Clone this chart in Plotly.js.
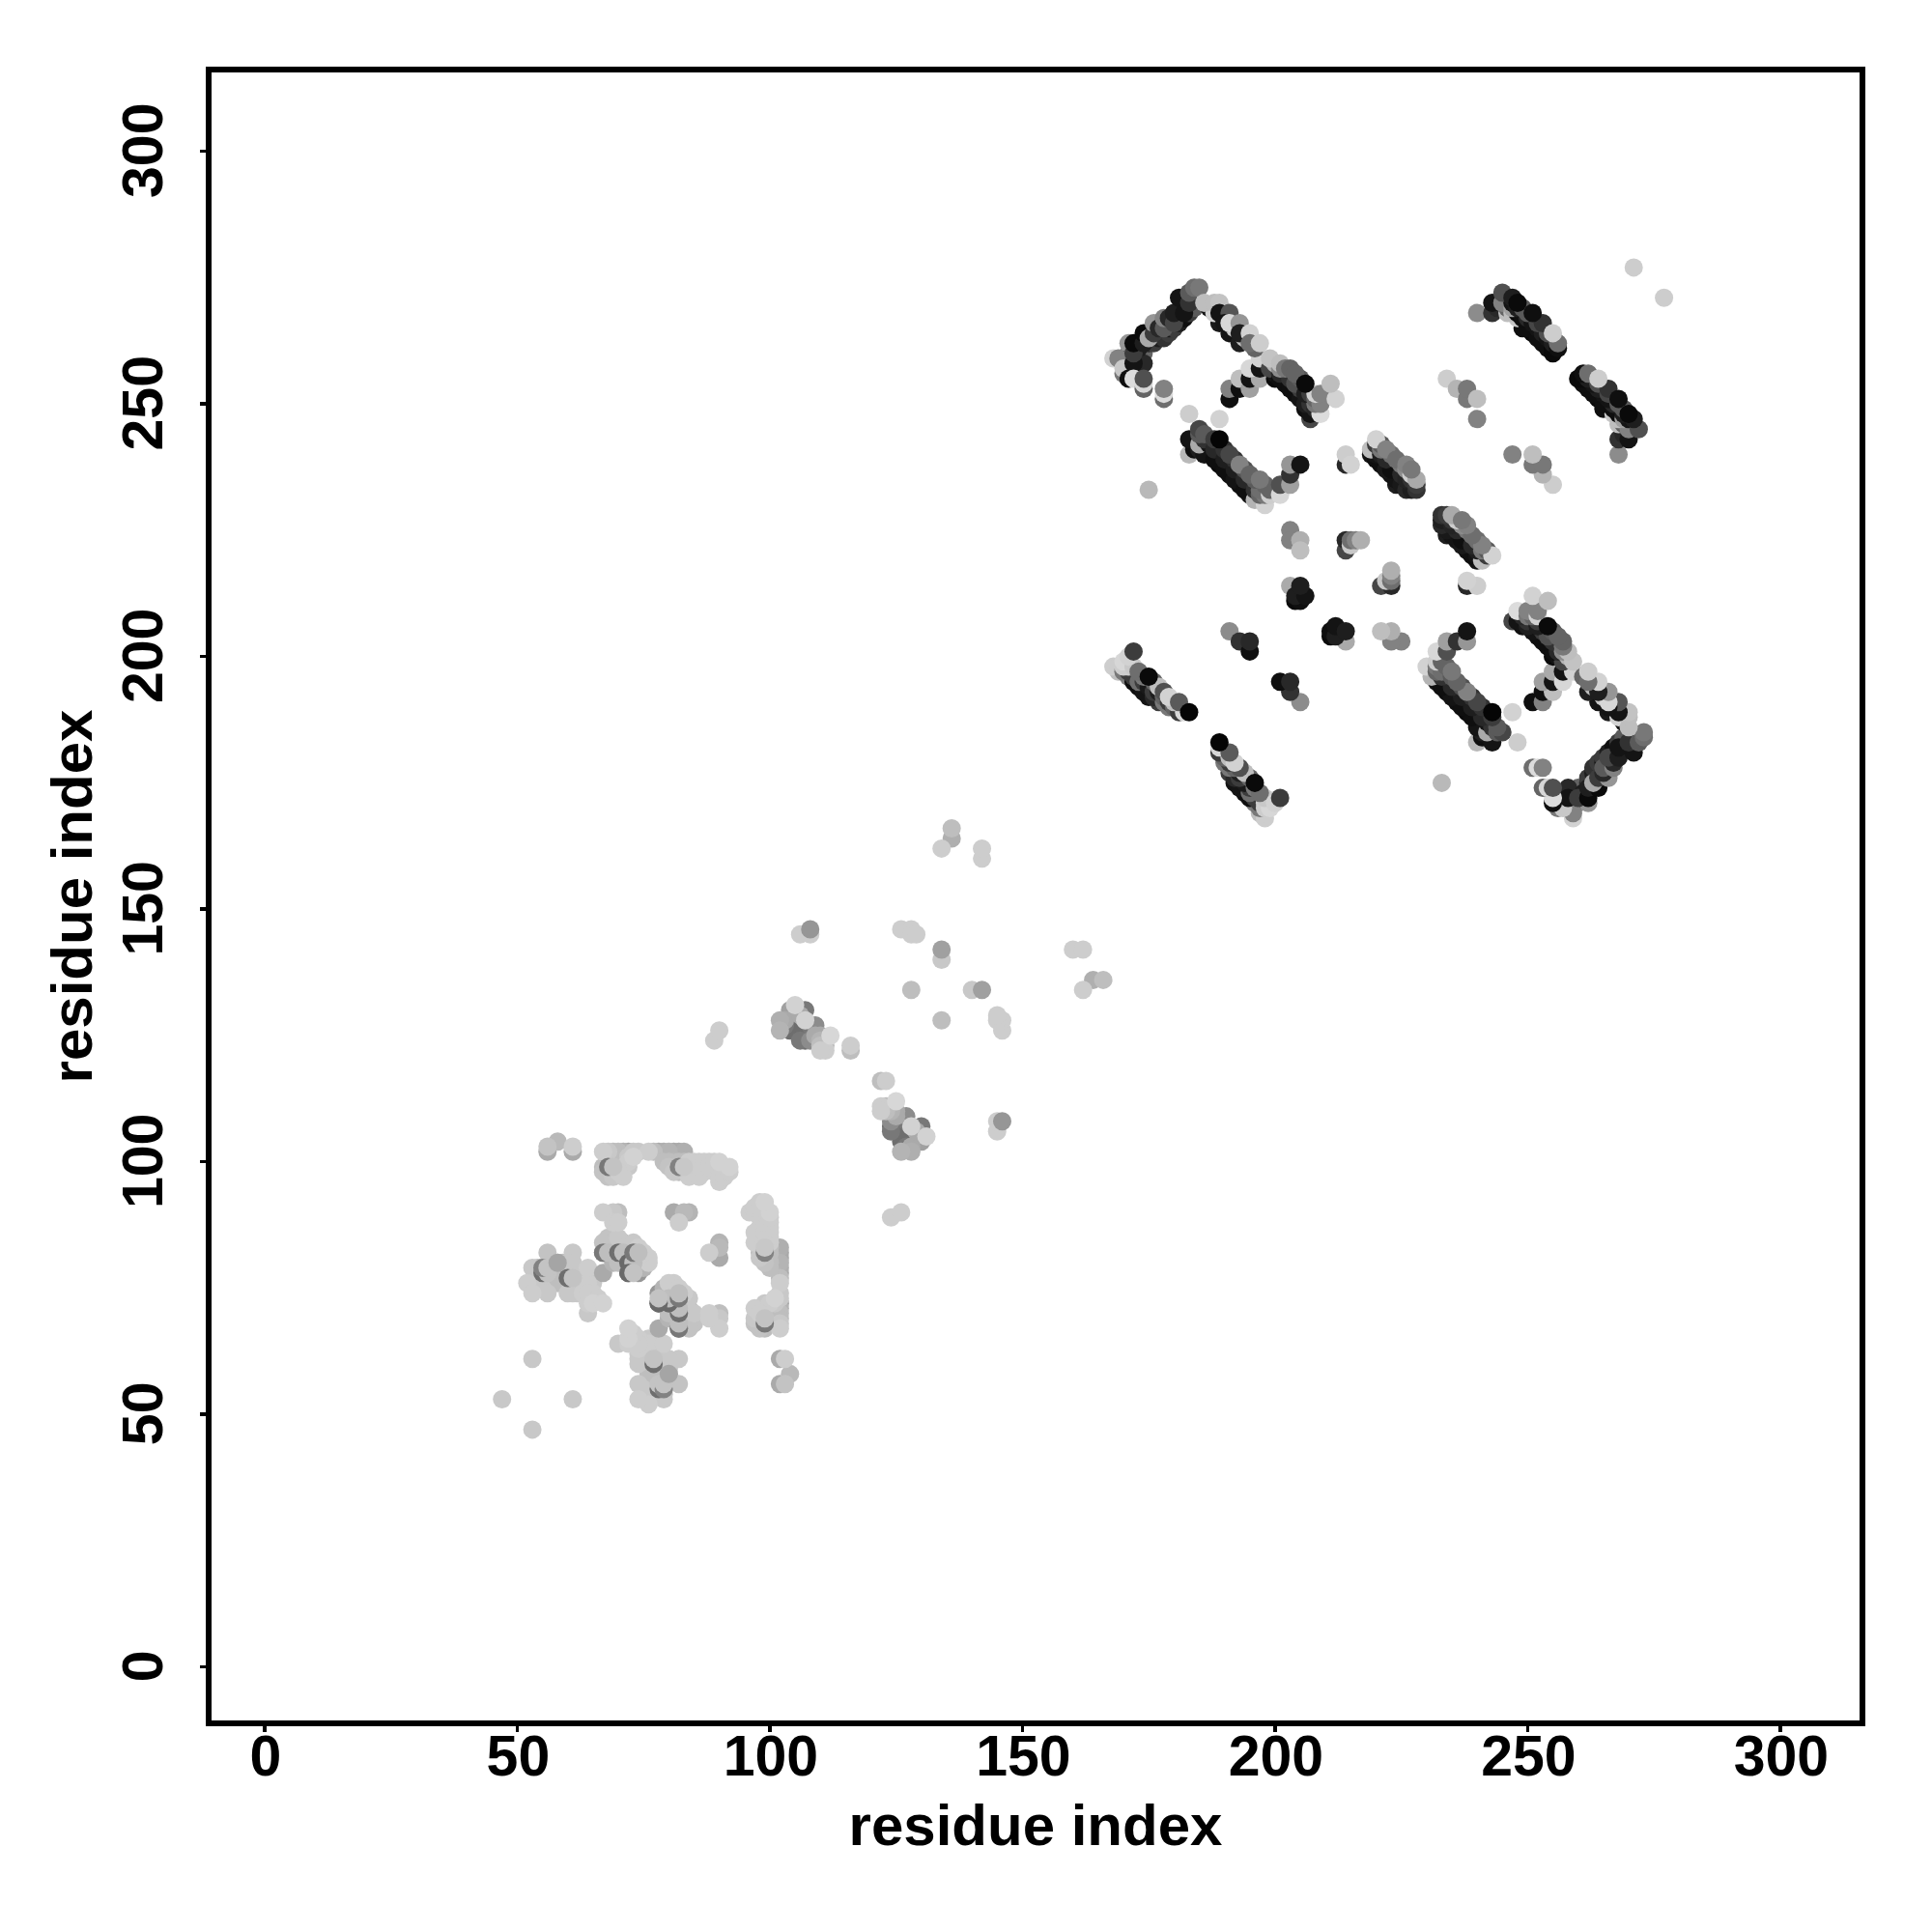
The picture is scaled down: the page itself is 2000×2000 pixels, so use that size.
<!DOCTYPE html>
<html><head><meta charset="utf-8">
<script src="https://cdn.plot.ly/plotly-3.0.1.min.js"></script>
<style>html,body{margin:0;padding:0;background:#fff}</style></head>
<body><div id="chart" style="width:2000px;height:2000px"></div>
<script>
// Contact map, symmetric: each row is [lower residue, higher residue, grey shade 0-255]
const tickValues = [0, 50, 100, 150, 200, 250, 300];
const axisLabel = "residue index";

const strandCorner = [
[170,258,150],[170,256,120],[171,258,80],[172,257,15],[173,258,60],[173,260,50],[171,260,140],[171,259,30],[174,260,100],[174,258,40],
[173,261,30],[175,262,40],[176,262,60],[177,263,30],[178,263,50],[179,264,60],[179,265,25],[180,265,60],[181,266,30],[181,268,30],[182,267,15],[182,269,30],[183,268,60],[184,269,90],
[187,269,20],[189,266,25],[191,264,20],[193,262,30],[192,265,200],[194,263,190],[196,261,100],[188,268,210],
[168,259,210],[169,259,130],[171,262,150],[170,257,200],[171,255,15],[172,258,20],[172,260,60],[172,262,10],[174,262,30],[174,264,10],
[172,255,220],[174,253,100],[174,254,215],[174,255,80],[178,251,110],[178,252,220],[178,253,130],
[175,263,170],[176,264,60],[176,266,150],[177,265,40],[178,265,90],[178,267,130],[179,267,40],[180,266,70],[180,268,30],[181,271,20],[182,268,20],[183,270,50],[183,272,90],[184,273,110],[185,273,120],
[183,248,205],[189,247,210],
[186,270,190],[188,270,190],[189,270,195],[189,268,20],[191,268,85],[190,266,20],[191,266,215],[193,266,150],[193,264,30],[195,264,210],[195,262,110],[197,262,205]
];
const strandUpper = [
[200,255,10],[200,256,20],[202,254,15],[204,252,15],[206,249,15],[201,256,40],[203,255,50],[205,253,60],[205,255,90],[207,252,60],[207,250,50],[208,250,120],[203,257,100],[204,254,80],[206,252,30],[208,249,40],[208,251,100],[200,258,180],[201,257,140],
[191,251,15],[191,253,130],[193,253,15],[193,255,190],[195,253,160],[195,255,20],[197,255,170],[195,257,215],[197,257,20],[197,259,210],[199,257,70],[199,259,195],[201,258,190],
[201,255,15],[203,253,15],[205,251,20],[202,257,120],[204,256,100],[206,250,30],[207,247,70],[207,248,20],[209,248,220],[208,252,210],[209,250,130],[209,252,130],[211,254,190],[212,251,210]
];
const strandMiddle = [
[184,241,15],[185,241,30],[186,240,20],[187,242,20],[189,238,10],[191,236,15],[193,234,15],[195,232,20],[186,243,50],[188,243,60],[188,241,40],[190,239,30],[190,241,50],[192,239,50],[192,237,30],[194,237,80],[194,235,40],[196,235,90],[196,233,50],[197,232,100],[198,234,100],[198,232,120],[199,233,100],[197,235,120],[185,244,90],
[183,243,20],[183,240,185],[185,242,170],[185,245,70],[186,244,90],[188,239,15],[190,237,15],[192,235,20],[194,233,15],[191,240,70],[193,238,130],[195,236,100],[197,233,110],[196,231,180],[198,230,210],[199,232,205],[201,232,215],[201,234,80],[203,234,160],[203,236,50],[203,238,150],[205,238,20],[175,233,185]
];
const helixBand = [
[219,240,20],[220,239,15],[221,238,15],[221,240,30],[222,239,40],[223,237,15],[223,236,20],[224,235,20],[225,234,25],[225,236,40],[226,235,35],[227,233,30],[227,235,50],[228,234,60],[220,242,60],[221,241,120],[221,242,90],[223,240,110],[225,238,120],[226,238,130],[227,237,120],
[220,240,20],[222,237,25],[224,234,30],[226,233,40],[228,233,50],[219,241,190],[220,243,210],[222,241,130],[224,239,110],[226,237,140],[227,236,205],[228,235,170]
];
const helixSpots = [
[214,238,40],[214,240,205],[215,238,210],
[203,225,130],[203,223,130],[205,223,175],[205,221,190],
[214,221,70],[214,223,40],[215,222,200],[215,223,110],[216,223,130],[217,223,175],
[203,214,170],[204,211,10],[205,211,15],[204,212,30],[206,212,20],[205,214,30],
[191,205,140],[193,203,50],[195,201,15],[195,203,40]
];
const strandLowerLeft = [
[169,197,190],[171,196,130],[171,197,60],[173,194,15],[172,196,60],[174,195,60],[175,194,25],[175,192,20],[176,193,60],[176,195,100],[177,193,30],[177,191,60],[178,192,100],[179,190,120],[179,191,60],[180,190,100],[180,191,190],[173,195,110],[174,196,120],[169,198,205],[170,198,205],[171,198,205],[172,198,200],
[168,198,205],[170,199,215],[171,200,210],[170,197,120],[172,195,15],[174,193,20],[176,192,40],[173,197,110],[177,194,190],[178,193,80],[178,191,120],[179,192,210],[181,191,90],[181,189,60],[182,189,215]
];
const strandFar = [
[244,269,40],[246,269,100],[247,270,20],[248,268,10],[249,267,15],[249,265,15],[251,264,10],[253,262,15],[250,267,40],[250,268,90],[251,266,20],[252,265,20],[253,264,30],[253,266,50],[254,264,80],[254,263,20],[255,262,30],[256,261,15],[255,261,10],[248,269,30],[247,271,30],[246,268,190],[247,269,160],[248,267,200],
[240,268,140],[243,268,50],[243,270,20],[245,270,130],[245,272,80],[247,268,190],[250,265,15],[252,263,15],[254,261,15],[255,260,10],[249,269,90],[252,266,70],[255,264,205],[256,262,110]
];
const strandFarSpots = [
[271,277,205],
[234,255,205],[236,253,180],[238,251,120],[238,253,120],[240,251,190],[240,247,130]
];
const loopsLower = [
[103,128,170],[103,127,120],[104,127,100],[104,126,110],[106,128,100],[106,124,120],[107,126,100],[108,127,120],[108,125,110],[108,124,140],[110,125,170],[110,124,180],[110,123,190],[111,122,205],[106,129,170],
[136,164,175],[136,166,190],[134,162,205],[142,160,205],[142,162,205],
[106,145,205],[108,145,205],[126,146,205],[128,146,205],[128,145,205],[129,145,205],
[134,140,200],[128,134,190],[89,124,205],[90,126,205],
[102,126,180],[102,128,175],[104,130,160],[105,126,110],[105,128,100],[107,124,110],[107,130,120],[106,126,100],[105,131,210],[109,125,170],[109,127,140],[107,128,210],[110,122,205],[111,123,190],[112,125,215],[116,122,190],[116,123,205]
];
const sheetTop = [
[68,99,170],[68,102,200],[69,98,130],[69,100,165],[70,99,160],[70,101,190],[70,102,190],[71,100,190],[71,97,205],[69,97,200],[72,99,200],[72,100,205],[72,101,200],[77,102,190],[80,102,180],[80,100,190],[80,99,195],[82,100,190],[82,98,190],[83,98,195],[83,100,190],[85,98,205],[85,99,205],[86,100,205],[87,98,205],[87,99,205],[88,100,205],[89,98,205],[89,99,205],[91,99,205],[90,100,210],
[56,102,170],[61,102,170],[56,103,195],[58,104,185],[61,103,205],
[68,98,120],[68,100,130],[70,100,160],[67,99,190],[67,98,195],[68,97,195],[69,99,200],[70,98,205],[71,99,195],[67,102,205],[69,102,190],[71,102,180],[72,102,165],[73,102,200],[73,101,210],[74,102,200],
[76,102,205],[78,102,170],[79,102,175],[82,102,170],[79,100,190],[81,102,170],[81,100,185],[81,98,200],[82,99,140],[83,102,175],[84,97,205],[83,99,200],[84,99,200],[84,100,205],[85,100,205],[86,97,205],[86,99,205],[87,100,205],[88,99,205],[89,100,205],[90,96,205],[90,98,205],[90,97,205],[90,99,200],[91,97,205],[91,98,205],[92,98,205],[92,99,210]
];
const sheetMiddle = [
[68,82,130],[68,83,170],[69,84,190],[69,81,160],[70,83,150],[71,82,110],[71,84,190],[72,81,100],[72,83,170],[73,81,130],[73,82,140],[73,80,110],[74,82,180],[75,81,190],[70,81,170],[68,85,195],[70,85,200],[72,79,130],[74,78,150],[75,79,180],[76,81,205],[76,80,205],
[67,90,205],[69,90,200],[70,90,190],[69,88,205],[70,88,205],
[81,90,170],[83,90,185],[84,90,180],[82,88,205],
[67,78,170],[72,78,130],[73,79,130],[74,79,140],[74,80,130],[72,80,100],[71,81,120],[72,82,120],[70,82,120],[69,83,130],[67,82,130],[69,80,180],[70,80,190],[75,80,180],[74,81,170],
[67,84,195],[68,84,190],[70,84,190],[71,83,200],[73,84,200],[74,83,205],[75,82,205]
];
const sheetLeft = [
[54,78,190],[54,76,190],[55,76,190],[55,75,200],[54,79,190],[57,78,190],[57,80,190],[58,78,170],[58,76,190],[59,80,190],[59,78,180],[60,80,200],[60,74,200],[61,78,195],[61,76,180],[62,78,200],[62,76,195],[62,74,200],[63,74,205],[64,76,205],[65,74,205],[65,76,200],[63,78,200],[64,72,205],[55,79,150],
[47,53,200],[53,61,200],
[52,76,205],[53,79,200],[53,76,195],[53,74,205],[55,78,110],[56,76,130],[56,74,200],[56,82,195],[58,80,165],[60,78,120],[60,76,90],[61,82,200],[61,80,200],[61,74,200],[63,76,200],[64,79,205],[64,74,205],[64,70,200],[65,72,210],[67,72,210],[66,73,205]
];
// Darker contacts that stay visible as slivers beside a lighter neighbour
const sheetSlivers = [
[55,78,110],[56,78,195],[55,79,130],[56,79,195],[60,77,110],[61,77,195],
[67,82,120],[68,82,190],[70,82,110],[71,82,190],[72,80,105],[73,80,190],[73,82,120],[74,82,190],[72,78,105],[73,78,195],
[68,99,120],[69,99,195],[82,99,130],[83,99,200]
];
// Contacts that sit on top of their neighbours in the reference
const topContacts = [
[108,146,150],[134,142,160],[58,80,165],
[189,243,5],[206,254,10],[175,196,10],[172,201,60],[183,189,5],[248,270,10],[251,268,15]
];

const darkFirst = rows => rows.slice().sort((a, b) => a[2] - b[2]);
const alongBand = rows => rows.slice().sort((a, b) => (a[0] + a[1]) - (b[0] + b[1]));

const allRows = [].concat(
  darkFirst(sheetLeft), darkFirst(sheetMiddle), darkFirst(sheetTop), sheetSlivers, darkFirst(loopsLower),
  alongBand(strandLowerLeft), alongBand(helixBand), helixSpots,
  alongBand(strandFar), strandFarSpots, alongBand(strandMiddle), alongBand(strandUpper), strandCorner,
  topContacts
);
const low = allRows.map(r => r[0]);
const high = allRows.map(r => r[1]);
const shades = allRows.map(r => `rgb(${r[2]},${r[2]},${r[2]})`);

const axisBase = {
  tickmode: "array", tickvals: tickValues, ticktext: tickValues.map(String),
  ticks: "outside", ticklen: 6, tickwidth: 3.5, tickcolor: "#000",
  showgrid: false, zeroline: false, showline: true, linewidth: 6, linecolor: "#000", mirror: true,
  tickfont: {family: "Liberation Sans", size: 59, color: "#000", weight: "bold"},
  automargin: false
};
const titleFont = {family: "Liberation Sans", size: 60, color: "#000", weight: "bold"};

Plotly.newPlot("chart", [
  {type: "scatter", mode: "markers", x: high, y: low, marker: {size: 19, color: shades, line: {width: 0}}, hoverinfo: "x+y"},
  {type: "scatter", mode: "markers", x: low, y: high, marker: {size: 19, color: shades, line: {width: 0}}, hoverinfo: "x+y"}
], {
  width: 2000, height: 2000, showlegend: false,
  paper_bgcolor: "#fff", plot_bgcolor: "#fff",
  margin: {l: 219, r: 75, t: 75, b: 219, pad: 0},
  xaxis: Object.assign({}, axisBase, {range: [-10.5, 315.7], tickangle: 0, ticklabelstandoff: -26, ticklabelshift: 1, title: {text: "<b>" + axisLabel + "</b>", font: titleFont, standoff: 20}}),
  yaxis: Object.assign({}, axisBase, {range: [-10.57, 315.6], tickangle: -90, ticklabelstandoff: 15, ticklabelshift: 8, title: {text: "<b>" + axisLabel + "</b>", font: titleFont, standoff: 2}})
}, {displayModeBar: false, staticPlot: true});
</script></body></html>
